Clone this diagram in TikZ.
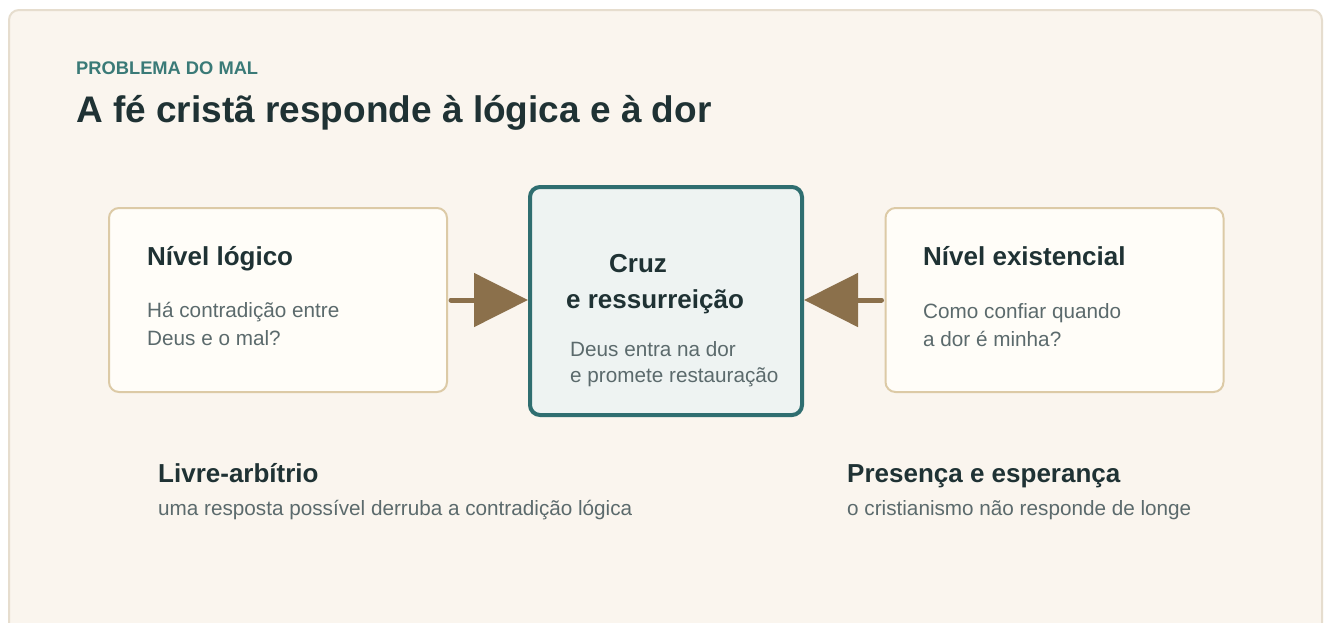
\documentclass[tikz,border=0pt]{standalone}
\usepackage{fontspec}
\setmainfont{Liberation Sans}
\usetikzlibrary{arrows.meta}
\definecolor{paper}{HTML}{FAF5EE}
\definecolor{frame}{HTML}{E6DDCE}
\definecolor{cardfill}{HTML}{FFFDF8}
\definecolor{cardline}{HTML}{DCCAA6}
\definecolor{focusfill}{HTML}{EEF3F2}
\definecolor{focusline}{HTML}{2F6E70}
\definecolor{bronze}{HTML}{8B704B}
\definecolor{ink}{HTML}{1F3234}
\definecolor{muted}{HTML}{5B6A6C}
\definecolor{kicker}{HTML}{3A7A77}

\begin{document}
\begin{tikzpicture}[x=1pt,y=-1pt]

\tikzset{card/.style = {draw=cardline,fill=cardfill,line width=2pt,rounded corners=10pt,minimum width=338pt,minimum height=184pt,inner sep=0pt}}
\tikzset{focus/.style = {draw=focusline,fill=focusfill,line width=4pt,rounded corners=10pt,minimum width=272pt,minimum height=228pt,inner sep=0pt}}
\tikzset{head/.style = {anchor=base west,inner sep=0pt,text=ink,align=left,font=\bfseries\fontsize{26}{36}\selectfont}}
\tikzset{body/.style = {anchor=base west,inner sep=0pt,text=muted,align=left,font=\fontsize{20.7}{28}\selectfont}}
\tikzset{link/.style = {draw=bronze,line width=5pt,line cap=round,-{Triangle[length=54pt,width=53pt]}}}

\useasboundingbox (0,0) rectangle (1324,622);
\fill[white] (0,0) rectangle (1324,622);
\draw[draw=frame,fill=paper,line width=2pt,rounded corners=10pt] (9,10) rectangle (1322,640);

\node[anchor=base west,inner sep=0pt,text=kicker,font=\bfseries\fontsize{18.3}{22}\selectfont] (kick) at (76,74) {PROBLEMA DO MAL};
\node[anchor=base west,inner sep=0pt,text=ink,font=\bfseries\fontsize{37}{44}\selectfont] (title) at (76,122) {A fé cristã responde à lógica e à dor};

\node[card] (logico) at (278,300) {};
\node[focus] (cruz) at (666,301) {};
\node[card] (existencial) at (1054.5,300) {};

% multi-line texts sit on their last line
\node[head] (logicohead) at (147,265) {Nível lógico};
\node[body] (logicotext) at (147,345.5) {Há contradição entre\\Deus e o mal?};
\node[head] (cruzhead) at (566,308) {\hspace*{43pt}Cruz\\e ressurreição};
\node[body,font=\fontsize{20.7}{26}\selectfont] (cruztext) at (570,382.5) {Deus entra na dor\\e promete restauração};
\node[head] (exishead) at (923,265) {Nível existencial};
\node[body] (existext) at (923,346.5) {Como confiar quando\\a dor é minha?};

\node[head] (livre) at (158,482) {Livre-arbítrio};
\node[body] (livretext) at (158,515) {uma resposta possível derruba a contradição lógica};
\node[head] (presenca) at (847,482) {Presença e esperança};
\node[body] (presencatext) at (847,515) {o cristianismo não responde de longe};

%edges
\draw[link,shorten <=3pt] (logico.east) -- (logico.east -| cruz.west);
\draw[link,shorten <=3pt] (existencial.west) -- (existencial.west -| cruz.east);
\end{tikzpicture}
\end{document}
